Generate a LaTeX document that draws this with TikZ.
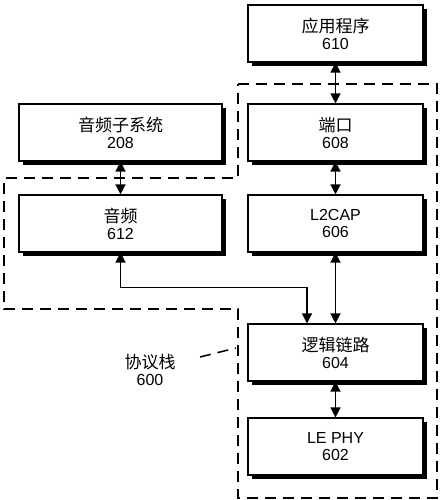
\documentclass[tikz,border=0pt]{standalone}
\usepackage{fontspec}
\setmainfont{Liberation Sans}
\newfontfamily\cjk{Noto Sans CJK SC}
\newcommand{\zh}[1]{{\fontsize{17}{17}\selectfont\cjk #1}}
\usetikzlibrary{arrows.meta,shadows}
\begin{document}
\begin{tikzpicture}[x=1pt,y=-1pt,
  blk/.style={draw=black,line width=1.2pt,fill=white,minimum width=175pt,minimum height=57pt,
    inner sep=0pt,align=center,font=\fontsize{16}{17}\selectfont,
    drop shadow={shadow xshift=4pt,shadow yshift=-4pt,fill=black,opacity=1}},
  wide/.style={blk,minimum width=203pt},
  link/.style={line width=1.5pt,{Triangle[length=10pt,width=10pt]}-{Triangle[length=10pt,width=10pt]}},
  stackline/.style={line width=2pt,dash pattern=on 11pt off 7pt},
  lbl/.style={align=center,font=\fontsize{16}{17}\selectfont,inner sep=0pt}]
\useasboundingbox (0,0) rectangle (444,500);
% dashed protocol stack outline
\draw[stackline] (238,84) -- (437,84) -- (437,498) -- (238,498) -- (238,309) -- (4,309) -- (4,178) -- (238,178) -- cycle;
% boxes
\node[blk] (app) at (335.5,33.5) {\zh{应用程序}\\610};
\node[wide] (sub) at (120.5,132.5) {\zh{音频子系统}\\208};
\node[blk] (port) at (335.5,132.5) {\zh{端口}\\608};
\node[wide] (audio) at (120.5,223.5) {\zh{音频}\\612};
\node[blk] (l2cap) at (335.5,223.5) {L2CAP\\606};
\node[blk] (ll) at (335.5,352.5) {\zh{逻辑链路}\\604};
\node[blk] (phy) at (335.5,446.5) {LE PHY\\602};
% connectors
\draw[link] (app) -- (port);
\draw[link] (sub) -- (audio);
\draw[link] (port) -- (l2cap);
\draw[link] (l2cap) -- (ll);
\draw[link] (ll) -- (phy);
\draw[link] (audio.south) -- ++(0,35) -| ([xshift=-28.5pt]ll.north);
% label
\node[lbl] (stack) at (150,370) {\zh{协议栈}\\600};
\coordinate (stackpt) at (236,348);
\draw[line width=1.5pt,dash pattern=on 11pt off 7pt] (200,357) -- (stackpt);
\end{tikzpicture}
\end{document}
